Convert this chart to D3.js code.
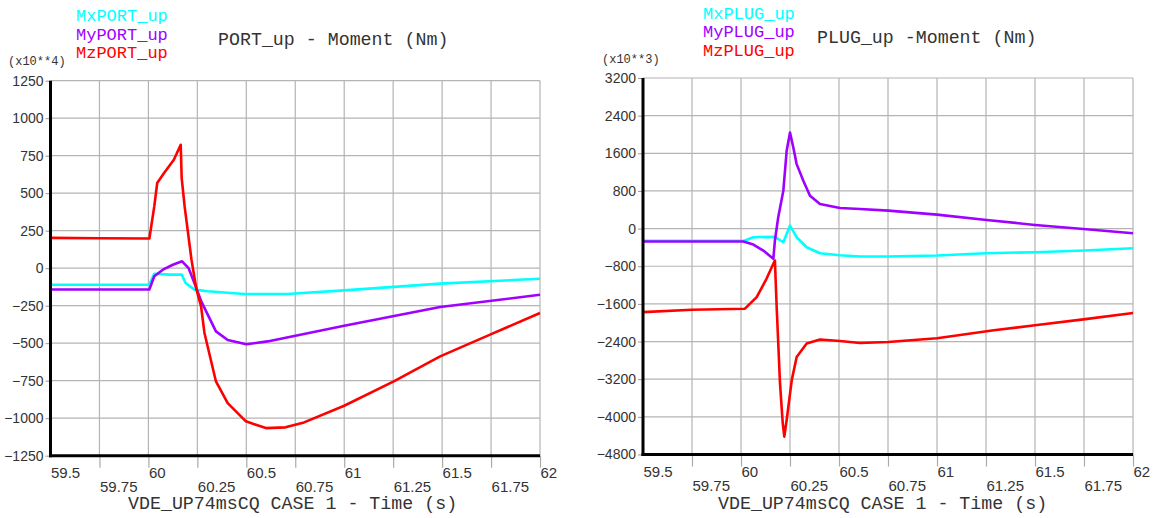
<!DOCTYPE html>
<html>
<head>
<meta charset="utf-8">
<script src="https://cdn.jsdelivr.net/npm/d3@7"></script>
<style>
  body { margin: 0; background: #fff; }
  .tick-label { font-family: "Liberation Sans", Arial, sans-serif; font-size: 14px; fill: #333; }
  .x-label { font-size: 15px; }
  .mono { font-family: "Liberation Mono", "DejaVu Sans Mono", monospace; }
</style>
</head>
<body>
<svg id="chart" width="1154" height="518"></svg>
<script>
const TIME_TICKS = [59.5, 59.75, 60, 60.25, 60.5, 60.75, 61, 61.25, 61.5, 61.75, 62];
const PORT_Y_TICKS = [-1250, -1000, -750, -500, -250, 0, 250, 500, 750, 1000, 1250];
const PLUG_Y_TICKS = [-4800, -4000, -3200, -2400, -1600, -800, 0, 800, 1600, 2400, 3200];

const PORT_NAMES = ["MxPORT_up", "MyPORT_up", "MzPORT_up"];
const PLUG_NAMES = ["MxPLUG_up", "MyPLUG_up", "MzPLUG_up"];
const SERIES_COLORS = ["#00ffff", "#a000ff", "#ff0000"];

// [time (s), moment] (x10**4 Nm)
const portMx = [[59.5, -110], [60.0, -110], [60.005, -108], [60.03, -37], [60.107, -43], [60.17, -43],
  [60.19, -99], [60.235, -143], [60.303, -154], [60.49, -172], [60.71, -172], [61.0, -148],
  [61.49, -103], [62, -70]];
const portMy = [[59.5, -142], [60.005, -142], [60.03, -54], [60.074, -10], [60.125, 23], [60.172, 46],
  [60.205, 1], [60.235, -99], [60.27, -221], [60.345, -421], [60.405, -479], [60.5, -507],
  [60.608, -488], [61.0, -383], [61.49, -259], [62, -177]];
const portMz = [[59.5, 202], [59.75, 200], [60.0, 198], [60.005, 198], [60.03, 412], [60.045, 568],
  [60.08, 635], [60.13, 723], [60.165, 823], [60.17, 600], [60.185, 412], [60.22, 57], [60.245, -140],
  [60.269, -254], [60.286, -430], [60.345, -755], [60.405, -899], [60.498, -1021], [60.6, -1066],
  [60.7, -1061], [60.795, -1028], [61.0, -917], [61.253, -755], [61.49, -588], [61.745, -443], [62, -299]];

// [time (s), moment] (x10**3 Nm)
const plugMx = [[59.5, -258], [60.02, -254], [60.063, -183], [60.173, -176], [60.216, -290], [60.25, 64],
  [60.284, -183], [60.335, -396], [60.403, -523], [60.505, -565], [60.607, -593], [60.75, -593],
  [61.0, -572], [61.25, -523], [61.5, -502], [61.75, -466], [62, -417]];
const plugMy = [[59.5, -275], [60.012, -275], [60.063, -339], [60.114, -466], [60.165, -643],
  [60.173, -254], [60.19, 240], [60.216, 805], [60.233, 1653], [60.25, 2040], [60.267, 1722],
  [60.284, 1370], [60.318, 1017], [60.352, 699], [60.403, 523], [60.505, 438], [60.607, 417],
  [60.752, 381], [61.0, 297], [61.253, 184], [61.5, 78], [61.747, -7], [62, -99]];
const plugMz = [[59.5, -1775], [59.75, -1725], [60.02, -1702], [60.08, -1455], [60.13, -1066],
  [60.165, -748], [60.173, -678], [60.182, -1667], [60.199, -3290], [60.213, -4138], [60.221, -4421],
  [60.233, -4068], [60.259, -3220], [60.284, -2727], [60.335, -2443], [60.403, -2358], [60.505, -2388],
  [60.607, -2430], [60.75, -2410], [61.0, -2330], [61.29, -2161], [61.5, -2055], [61.747, -1928],
  [62, -1794]];

const svg = d3.select("#chart");
svg.append("rect").attr("width", 1154).attr("height", 518).attr("fill", "#fff");

function drawPanel(cfg) {
  const x = d3.scaleLinear().domain([59.5, 62]).range([cfg.left, cfg.right]);
  const y = d3.scaleLinear().domain(cfg.yDomain).range([cfg.bottom, cfg.top]);
  const g = svg.append("g");

  // grid
  g.append("g").selectAll("line").data(TIME_TICKS.slice(1)).join("line")
    .attr("x1", d => x(d)).attr("x2", d => x(d))
    .attr("y1", cfg.top).attr("y2", cfg.bottom)
    .attr("stroke", "#b4b4b4").attr("stroke-width", 1.2);
  g.append("g").selectAll("line").data(cfg.yTicks.slice(1)).join("line")
    .attr("x1", cfg.left).attr("x2", cfg.right)
    .attr("y1", d => y(d)).attr("y2", d => y(d))
    .attr("stroke", "#b4b4b4").attr("stroke-width", 1.2);

  // y axis ticks + labels
  const yAxis = g.append("g")
    .attr("transform", `translate(${cfg.left},0)`)
    .call(d3.axisLeft(y).tickValues(cfg.yTicks).tickSize(5).tickPadding(2).tickFormat(d3.format("")));
  yAxis.select(".domain").remove();
  yAxis.selectAll(".tick line").attr("stroke", "#999");
  yAxis.selectAll(".tick text").attr("class", "tick-label").attr("fill", null);

  // x axis ticks + two-row labels
  const xAxis = g.append("g")
    .attr("transform", `translate(0,${cfg.bottom})`)
    .call(d3.axisBottom(x).tickValues(TIME_TICKS).tickSize(12).tickFormat(d3.format("")));
  xAxis.select(".domain").remove();
  xAxis.selectAll(".tick line").attr("stroke", "#aaa").attr("stroke-width", 1.2)
    .attr("opacity", (d, i) => i === 0 ? 0 : 1);
  xAxis.selectAll(".tick text")
    .attr("class", "tick-label x-label").attr("fill", null)
    .attr("text-anchor", "start")
    .attr("dy", null)
    .attr("x", 0)
    .attr("y", (d, i) => i % 2 === 0 ? 22 : 36);

  // series
  const line = d3.line().x(d => x(d[0])).y(d => y(d[1]));
  cfg.series.forEach((s, i) => {
    g.append("path").datum(s)
      .attr("d", line)
      .attr("fill", "none")
      .attr("stroke", SERIES_COLORS[i])
      .attr("stroke-width", 2.6)
      .attr("stroke-linejoin", "round");
  });

  // thick left and bottom axes
  g.append("line").attr("x1", cfg.left).attr("x2", cfg.left)
    .attr("y1", cfg.top).attr("y2", cfg.bottom + 1.5)
    .attr("stroke", "#000").attr("stroke-width", 3);
  g.append("line").attr("x1", cfg.left - 1.5).attr("x2", cfg.right)
    .attr("y1", cfg.bottom).attr("y2", cfg.bottom)
    .attr("stroke", "#000").attr("stroke-width", 3);

  // legend, title, scale factor, x title
  cfg.names.forEach((n, i) => {
    svg.append("text").attr("class", "mono")
      .attr("x", cfg.legendX).attr("y", cfg.legendY[i])
      .attr("font-size", 17).attr("fill", SERIES_COLORS[i])
      .text(n);
  });
  svg.append("text").attr("class", "mono")
    .attr("x", cfg.titleX).attr("y", cfg.titleY)
    .attr("font-size", 18.3).attr("fill", "#333")
    .text(cfg.title);
  svg.append("text").attr("class", "mono")
    .attr("x", cfg.scaleX).attr("y", cfg.scaleY)
    .attr("font-size", 12).attr("fill", "#333")
    .text(cfg.scaleLabel);
  svg.append("text").attr("class", "mono")
    .attr("x", cfg.xTitleX).attr("y", 509)
    .attr("font-size", 18.3).attr("fill", "#333")
    .text("VDE_UP74msCQ CASE 1 - Time (s)");
}

drawPanel({
  left: 50.5, right: 540, top: 80.7, bottom: 455.7,
  yDomain: [-1250, 1250], yTicks: PORT_Y_TICKS,
  series: [portMx, portMy, portMz], names: PORT_NAMES,
  legendX: 76, legendY: [21, 40, 58],
  title: "PORT_up - Moment (Nm)", titleX: 218, titleY: 45,
  scaleLabel: "(x10**4)", scaleX: 8, scaleY: 65,
  xTitleX: 128
});

drawPanel({
  left: 643, right: 1133, top: 78, bottom: 454.5,
  yDomain: [-4800, 3200], yTicks: PLUG_Y_TICKS,
  series: [plugMx, plugMy, plugMz], names: PLUG_NAMES,
  legendX: 703, legendY: [19, 37, 56],
  title: "PLUG_up -Moment (Nm)", titleX: 817, titleY: 43,
  scaleLabel: "(x10**3)", scaleX: 602, scaleY: 63,
  xTitleX: 718
});
</script>
</body>
</html>
